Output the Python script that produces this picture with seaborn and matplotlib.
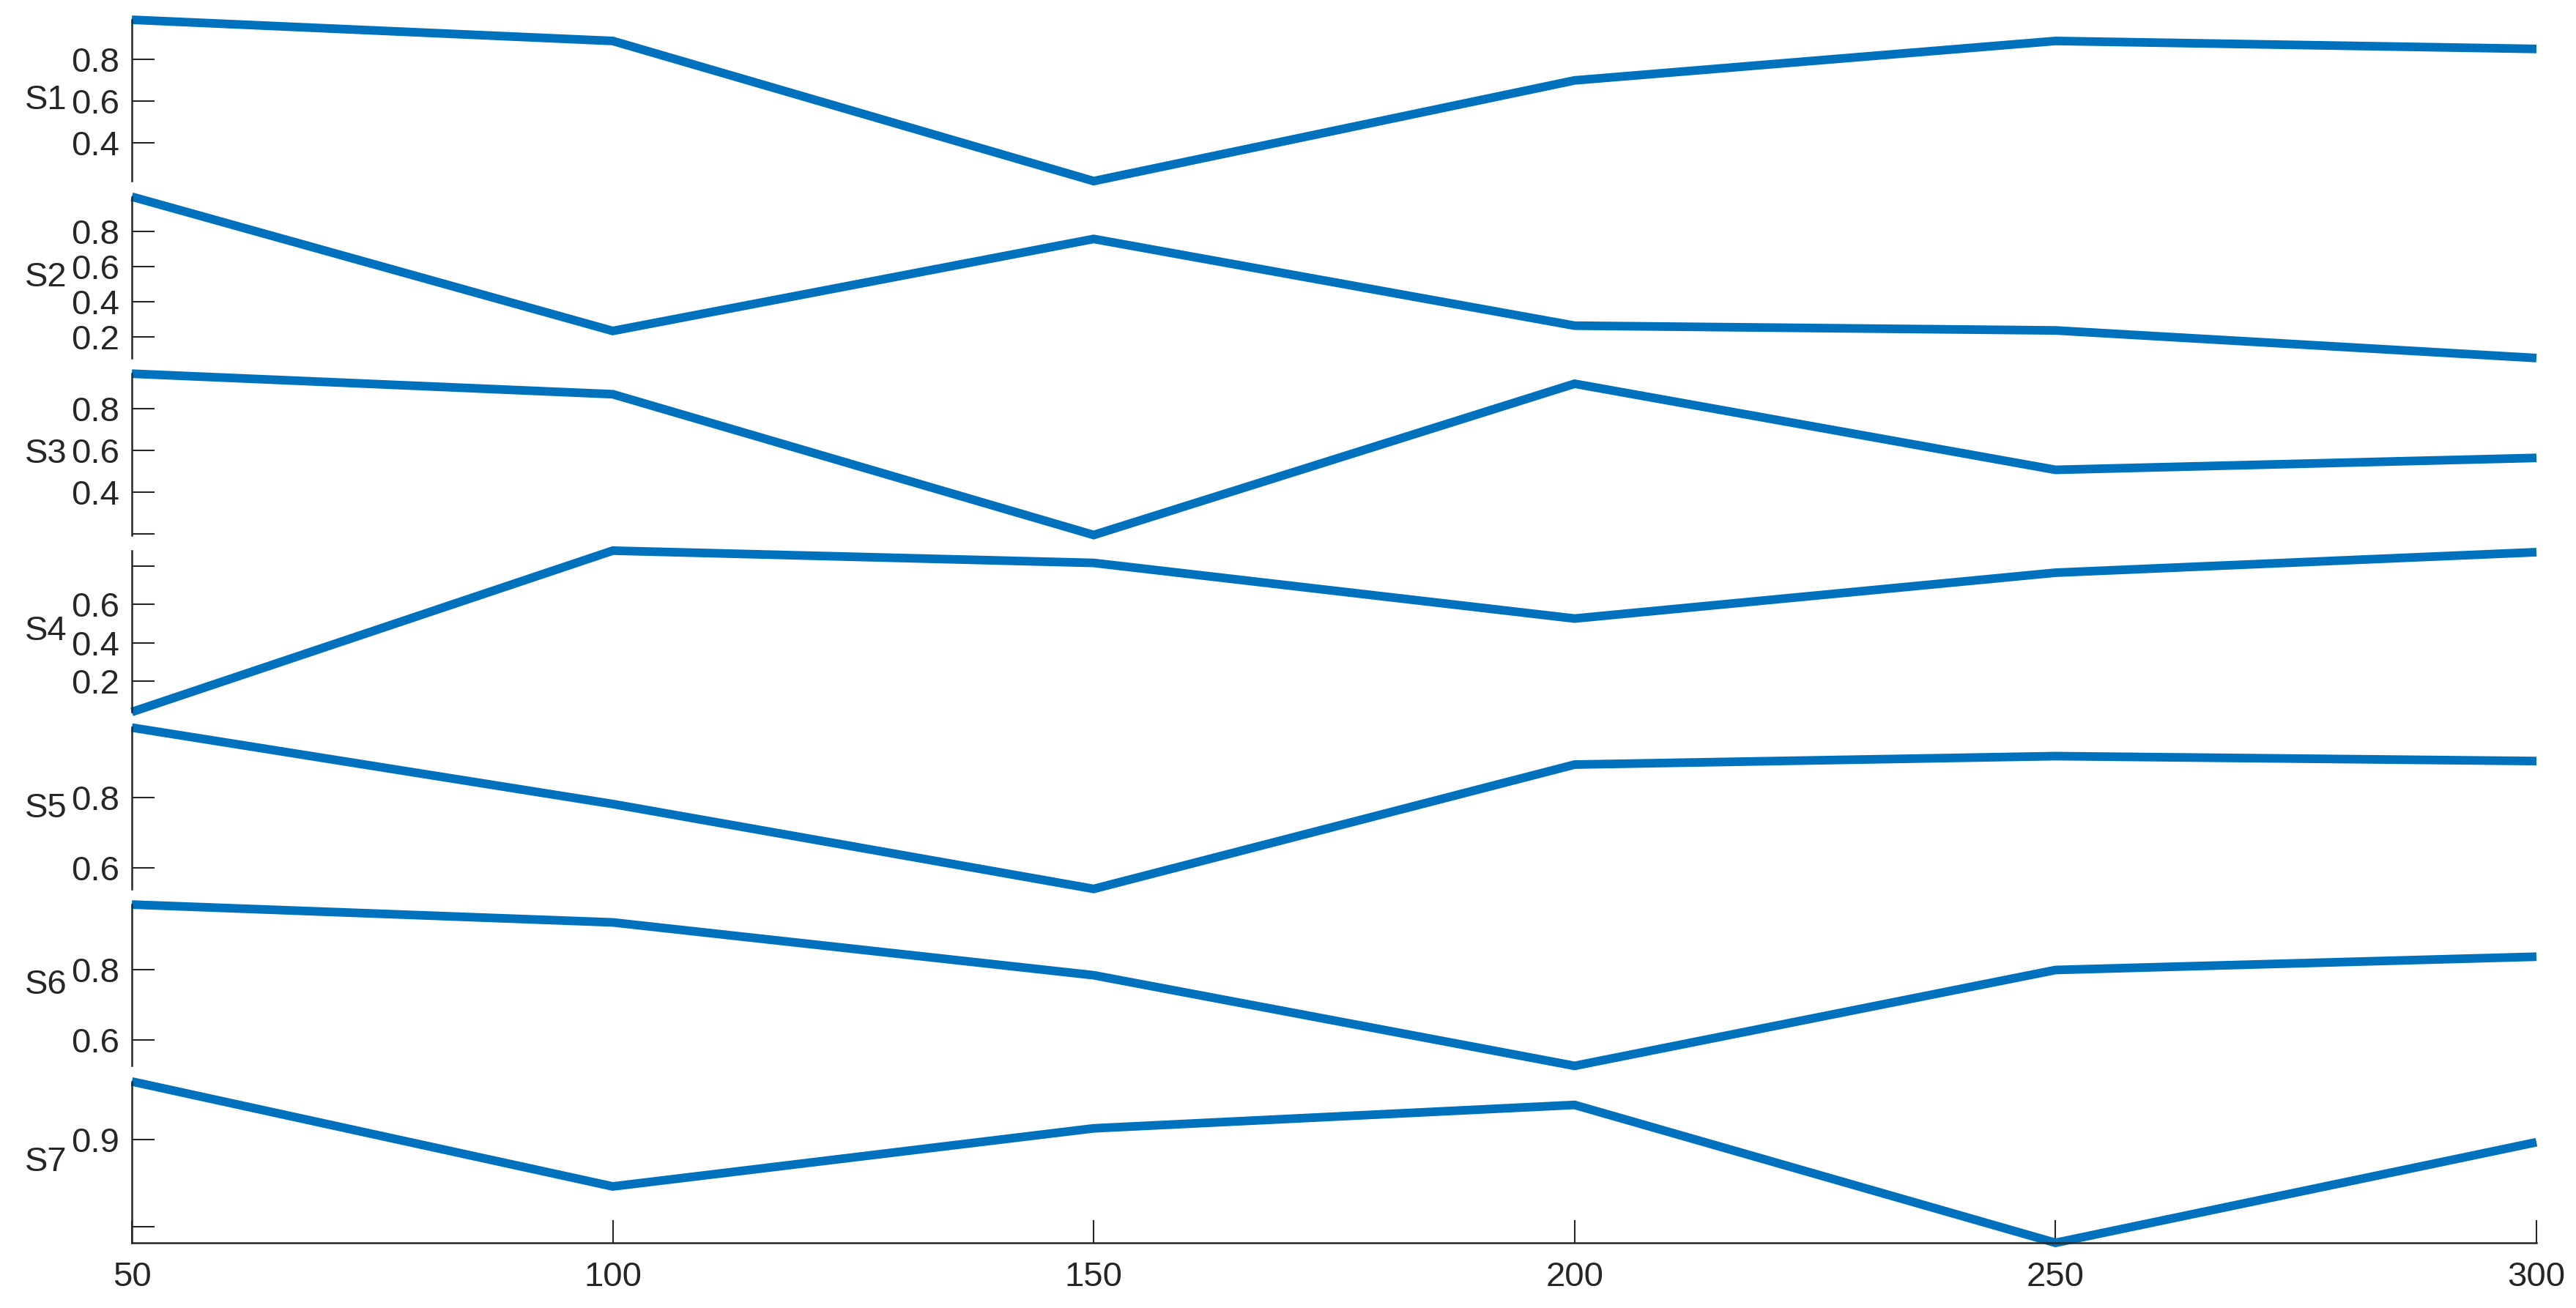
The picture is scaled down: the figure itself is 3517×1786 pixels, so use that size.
import matplotlib
matplotlib.use('Agg')
import matplotlib.pyplot as plt
import seaborn as sns

# x positions shared by every series
x_vals = [50, 100, 150, 200, 250, 300]

s1 = [0.988, 0.887, 0.219, 0.699, 0.887, 0.849]
s2 = [0.996, 0.233, 0.756, 0.263, 0.236, 0.079]
s3 = [0.966, 0.868, 0.196, 0.918, 0.507, 0.564]
s4 = [0.039, 0.880, 0.816, 0.526, 0.765, 0.872]
s5 = [0.998, 0.781, 0.540, 0.893, 0.917, 0.903]
s6 = [0.987, 0.936, 0.785, 0.526, 0.800, 0.838]
s7 = [0.967, 0.846, 0.913, 0.940, 0.781, 0.897]

series_names = ['S1', 'S2', 'S3', 'S4', 'S5', 'S6', 'S7']
series_vals = [s1, s2, s3, s4, s5, s6, s7]

# y ticks per panel; empty label = tick drawn without text
ytick_vals = [
    [0.4, 0.6, 0.8],
    [0.2, 0.4, 0.6, 0.8],
    [0.2, 0.4, 0.6, 0.8],
    [0.2, 0.4, 0.6, 0.8],
    [0.6, 0.8],
    [0.6, 0.8],
    [0.8, 0.9],
]
ytick_labels = [
    ['0.4', '0.6', '0.8'],
    ['0.2', '0.4', '0.6', '0.8'],
    ['', '0.4', '0.6', '0.8'],
    ['0.2', '0.4', '0.6', ''],
    ['0.6', '0.8'],
    ['0.6', '0.8'],
    ['', '0.9'],
]
xtick_vals = [50, 100, 150, 200, 250, 300]

sns.set_style('white')
plt.rcParams['font.family'] = ['Liberation Sans', 'DejaVu Sans']

line_color = '#0072BD'
ink = '#262626'
W, H = 3517, 1786

fig, axes = plt.subplots(7, 1, sharex=True, figsize=(W / 100, H / 100), dpi=100)
fig.subplots_adjust(left=180 / W, right=3463 / W, top=1 - 27 / H, bottom=1 - 1697 / H, hspace=0.097)

for i, ax in enumerate(axes):
    vals = series_vals[i]
    sns.lineplot(x=x_vals, y=vals, ax=ax, color=line_color, linewidth=8.5)
    for ln in ax.get_lines():
        ln.set_clip_on(False)
        ln.set_solid_joinstyle('miter')
        ln.set_solid_capstyle('butt')
    ax.set_ylim(min(vals), max(vals))
    ax.set_xlim(50, 300)
    ax.set_yticks(ytick_vals[i])
    ax.set_yticklabels(ytick_labels[i])
    ax.tick_params(axis='y', direction='in', length=22, width=1.5, color=ink,
                   labelsize=34, labelcolor=ink, pad=12, left=True)
    ax.set_ylabel(series_names[i], rotation=0, ha='right', va='center', fontsize=34, color=ink)
    ax.yaxis.set_label_coords(-0.027, 0.5)
    for side in ['top', 'right']:
        ax.spines[side].set_visible(False)
    ax.spines['left'].set_color(ink)
    ax.spines['left'].set_linewidth(1.8)
    if i < 6:
        ax.spines['bottom'].set_visible(False)
        ax.tick_params(axis='x', bottom=False, labelbottom=False)
    else:
        ax.spines['bottom'].set_color(ink)
        ax.spines['bottom'].set_linewidth(1.8)
        ax.set_xticks(xtick_vals)
        ax.tick_params(axis='x', direction='in', length=22, width=1.5, color=ink,
                       labelsize=34, labelcolor=ink, pad=18, bottom=True)
    ax.grid(False)

plt.savefig('out.png', dpi=100)
plt.close()
